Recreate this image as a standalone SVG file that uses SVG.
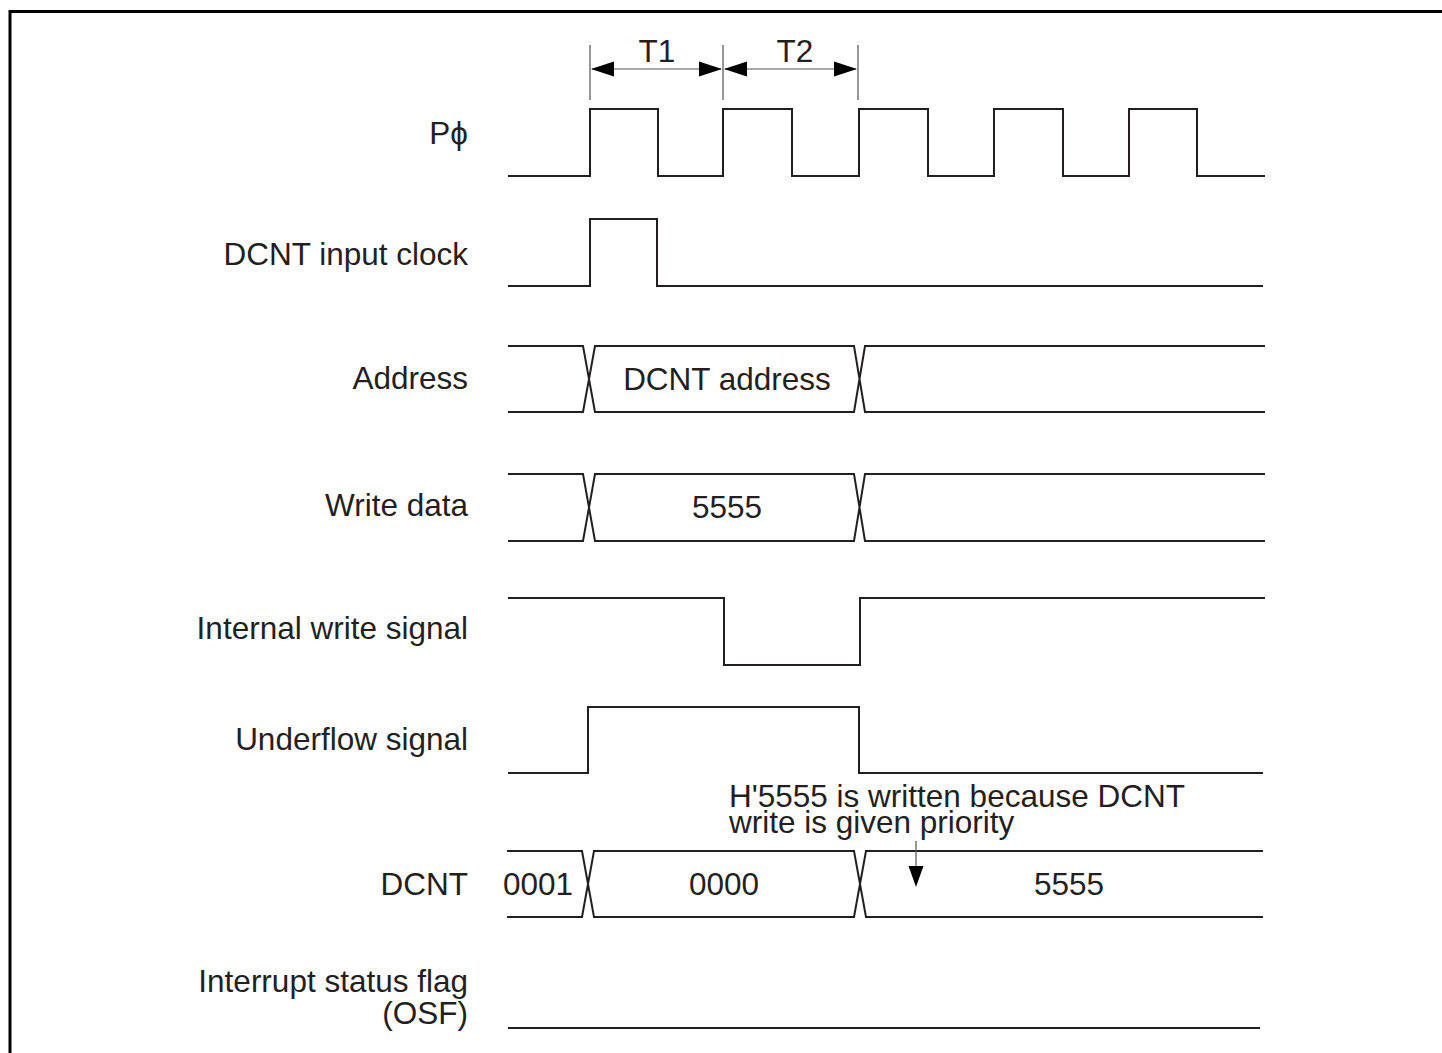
<svg xmlns="http://www.w3.org/2000/svg" width="1442" height="1053" viewBox="0 0 1442 1053">
<style>
.sig{fill:none;stroke:#231f20;stroke-width:2;stroke-linejoin:miter}
.dim{fill:none;stroke:#555;stroke-width:1.2}
.ah{fill:#000;stroke:none}
text{font-family:"Liberation Sans",Arial,sans-serif;font-size:31.5px;fill:#231f20}
.lbl{text-anchor:end}
.mid{text-anchor:middle}
</style>
<rect x="0" y="0" width="1442" height="1053" fill="#fff"/>
<path d="M10,1053 V11.5 H1442" fill="none" stroke="#000" stroke-width="3"/>

<g id="dimensions">
<path class="dim" d="M590,45 V100 M723,45 V100 M858,45 V100 M592,69 H721 M725,69 H856"/>
<polygon class="ah" points="591,69 614,61.5 614,76.5"/>
<polygon class="ah" points="722,69 699,61.5 699,76.5"/>
<polygon class="ah" points="724,69 747,61.5 747,76.5"/>
<polygon class="ah" points="857,69 834,61.5 834,76.5"/>
<text class="mid" x="657" y="62">T1</text>
<text class="mid" x="795" y="62">T2</text>
</g>

<g id="pphi">
<text class="lbl" x="468" y="144">Pϕ</text>
<path class="sig" d="M508,176 H590 V109 H658 V176 H723 V109 H792 V176 H859 V109 H928 V176 H994 V109 H1063 V176 H1129 V109 H1197 V176 H1265"/>
</g>

<g id="dcnt-input-clock">
<text class="lbl" x="468" y="265">DCNT input clock</text>
<path class="sig" d="M508,286 H590 V219 H657 V286 H1263"/>
</g>

<g id="address">
<text class="lbl" x="468" y="389">Address</text>
<path class="sig" d="M508,346 H583 L595,412 H854 L865,346 H1265 M508,412 H583 L595,346 H854 L865,412 H1265"/>
<text class="mid" x="727" y="390">DCNT address</text>
</g>

<g id="write-data">
<text class="lbl" x="468" y="516">Write data</text>
<path class="sig" d="M508,474 H583 L595,541 H854 L865,474 H1265 M508,541 H583 L595,474 H854 L865,541 H1265"/>
<text class="mid" x="727" y="518">5555</text>
</g>

<g id="internal-write-signal">
<text class="lbl" x="468" y="639">Internal write signal</text>
<path class="sig" d="M508,598 H724 V665 H860 V598 H1265"/>
</g>

<g id="underflow-signal">
<text class="lbl" x="468" y="750">Underflow signal</text>
<path class="sig" d="M508,773 H588 V707 H859 V773 H1263"/>
</g>

<g id="annotation">
<text x="729" y="807">H'5555 is written because DCNT</text>
<text x="729" y="833">write is given priority</text>
</g>

<g id="dcnt">
<text class="lbl" x="468" y="895">DCNT</text>
<path class="sig" d="M507,851 H582 L594,917 H854 L866,851 H1263 M507,917 H582 L594,851 H854 L866,917 H1263"/>
<text x="503" y="895">0001</text>
<text class="mid" x="724" y="895">0000</text>
<text class="mid" x="1069" y="895">5555</text>
</g>

<g id="connectors">
<path class="dim" d="M916,841 V867"/>
<polygon class="ah" points="908.5,866 923.5,866 916,887"/>
</g>

<g id="osf">
<text class="lbl" x="468" y="992">Interrupt status flag</text>
<text class="lbl" x="468" y="1024">(OSF)</text>
<path class="sig" d="M508,1028 H1260"/>
</g>
</svg>
